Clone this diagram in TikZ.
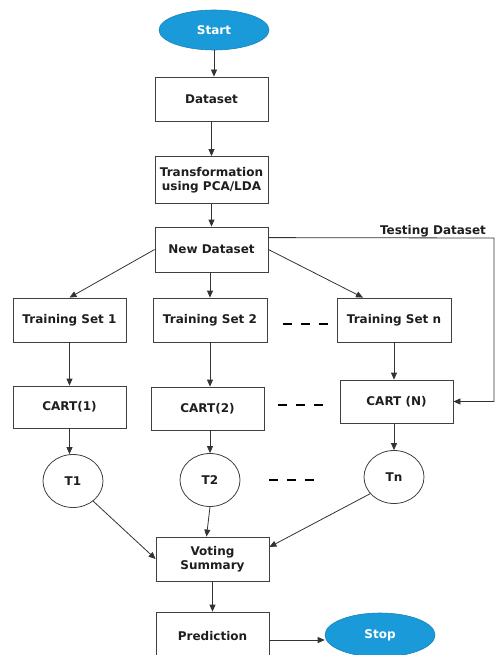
\documentclass[tikz,border=0pt]{standalone}
\usepackage{fontspec}
\setmainfont{DejaVu Sans}
\usetikzlibrary{arrows.meta,shapes.geometric}
\definecolor{startblue}{HTML}{1B9AD9}
\definecolor{txt}{HTML}{1E1E1E}
\begin{document}
\begin{tikzpicture}[x=1pt,y=-1pt,
  lbl/.style={font=\bfseries\fontsize{12}{14.5}\selectfont, text=txt},
  box/.style={lbl, draw=black!75, line width=0.8pt, minimum width=113pt, minimum height=44pt, align=center, inner sep=0pt},
  term/.style={ellipse, fill=startblue, draw=startblue!85!black, line width=0.6pt, text=white, font=\bfseries\fontsize{12}{14}\selectfont, minimum width=110pt, minimum height=40pt, inner sep=0pt},
  tree/.style={lbl, ellipse, draw=black!75, line width=0.8pt, minimum width=60pt, minimum height=53pt, inner sep=0pt},
  arr/.style={draw=black!80, line width=0.8pt, -{Triangle[length=7pt,width=6pt]}},
  dots/.style={draw=black, line width=2.2pt, dash pattern=on 9pt off 9pt}
]
\useasboundingbox (0,0) rectangle (497,655);

\node[term] (start) at (214,30) {Start};
\node[box] (dataset) at (211.5,99) {Dataset};
\node[box, minimum height=47pt] (trans) at (211.5,180) {Transformation\\using PCA/LDA};
\node[box, minimum height=45pt] (newds) at (211.5,249.5) {New Dataset};

\node[box] (ts1) at (69.5,320) {Training Set 1};
\node[box, minimum width=114pt] (ts2) at (210,320) {Training Set 2};
\node[box, minimum width=114pt] (tsn) at (394,320) {Training Set n};

\node[box, minimum height=42pt] (c1) at (69.5,407) {CART(1)};
\node[box, minimum height=43pt] (c2) at (207.5,408.5) {CART(2)};
\node[box, minimum height=43pt] (cn) at (396.5,401.5) {CART (N)};

\node[tree] (t1) at (73,481) {T1};
\node[tree] (t2) at (210,480) {T2};
\node[tree] (tn) at (394,477) {Tn};

\node[box] (vote) at (212.5,559) {Voting\\Summary};
\node[box, minimum height=48pt] (pred) at (212.5,636) {Prediction};
\node[term, minimum height=44pt] (stop) at (380,635) {Stop};

\node[lbl, anchor=base] (testlbl) at (433,234) {Testing Dataset};

% connectors
\draw[arr] (start.south) -- (start.south |- dataset.north);
\draw[arr] (dataset) -- (trans);
\draw[arr] (trans) -- (newds);
\draw[arr] (newds.west) -- (ts1.north);
\draw[arr] (ts2.north |- newds.south) -- (ts2.north);
\draw[arr] (newds.east) -- ([xshift=-31pt]tsn.north);
\coordinate (tcorner) at (494,238);
\draw[arr] ([yshift=-11pt]newds.north east) -- (tcorner) |- (cn.east);

\draw[arr] (c1.north |- ts1.south) -- (c1.north);
\draw[arr] (ts2.south) -- (ts2.south |- c2.north);
\draw[arr] (tsn.south) -- (tsn.south |- cn.north);

\draw[arr] (c1.south) -- (c1.south |- t1.north);
\draw[arr] (t2.north |- c2.south) -- (t2.north);
\draw[arr] (tn.north |- cn.south) -- (tn.north);

\draw[arr] (t1.-45) -- (vote.west);
\draw[arr] (t2.south) -- ([xshift=-6pt]vote.north);
\draw[arr] (tn.-145) -- ([yshift=12pt]vote.east);
\draw[arr] (vote) -- (pred);
\draw[arr] ([yshift=-4pt]pred.east) -- ([yshift=-4pt]pred.east -| stop.west);

% continuation dashes
\draw[dots] (283,324) -- (329,324);
\draw[dots] (278,405) -- (324,405);
\draw[dots] (269,480) -- (315,480);
\end{tikzpicture}
\end{document}
